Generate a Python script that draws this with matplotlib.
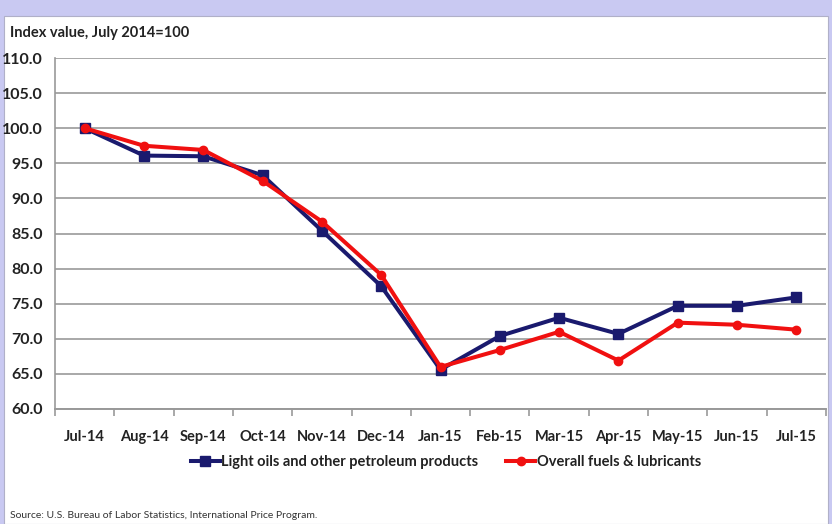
import matplotlib
matplotlib.use("Agg")
import matplotlib.pyplot as plt
import numpy as np
from matplotlib.patches import Rectangle

months = ["Jul-14", "Aug-14", "Sep-14", "Oct-14", "Nov-14", "Dec-14", "Jan-15",
          "Feb-15", "Mar-15", "Apr-15", "May-15", "Jun-15", "Jul-15"]
light_oils = [100.0, 96.1, 96.0, 93.3, 85.4, 77.5, 65.6, 70.4, 73.0, 70.7, 74.7, 74.7, 75.9]
overall = [100.0, 97.5, 96.9, 92.5, 86.7, 79.1, 66.0, 68.4, 71.0, 66.9, 72.3, 72.0, 71.3]
yticks = [60, 65, 70, 75, 80, 85, 90, 95, 100, 105, 110]

plt.rcParams['font.family'] = ['Lato', 'DejaVu Sans']

fig = plt.figure(figsize=(8.32, 5.24), dpi=100)
fig.patch.set_facecolor('#c9c9f2')
# white slide panel
fig.patches.append(Rectangle((4/832, 0), 824/832, 1 - 16/524, transform=fig.transFigure,
                             facecolor='white', edgecolor='#b0b0c8', linewidth=0.8, zorder=-5))

ax = fig.add_axes([55/832, 1 - 409/524, 771/832, 351/524])
ax.set_zorder(2)
ax.set_facecolor('none')
x = np.arange(len(months))
ax.plot(x, light_oils, color='#1a1a6e', lw=2.9, marker='s', ms=6.5, zorder=3,
        label='Light oils and other petroleum products')
ax.plot(x, overall, color='#f01010', lw=2.9, marker='o', ms=6, zorder=4,
        label='Overall fuels & lubricants')

ax.set_xlim(-0.5, len(months) - 0.5)
ax.set_ylim(60, 110)
ax.set_yticks(yticks)
ax.set_yticklabels([f"{v:.1f}" for v in yticks], fontsize=11.5, fontweight='bold', color='#222222')
ax.set_xticks(x)
ax.set_xticklabels(months, fontsize=10.5, fontweight='bold', color='#222222')
ax.set_xticks(np.arange(-0.5, len(months), 1), minor=True)
ax.tick_params(axis='x', which='major', length=0, pad=15)
ax.tick_params(axis='x', which='minor', length=5, color='#999999', width=1.2)
ax.tick_params(axis='y', length=0, pad=9)
ax.grid(axis='y', color='#a8a8a8', lw=1.4, zorder=0)
for s in ['top', 'right']:
    ax.spines[s].set_visible(False)
ax.spines['left'].set_color('#999999')
ax.spines['left'].set_linewidth(1.2)
ax.spines['bottom'].set_color('#999999')
ax.spines['bottom'].set_linewidth(1.4)

leg = fig.legend(loc='center', bbox_to_anchor=(446/832, 1 - 462/524), ncol=2, frameon=False,
                 fontsize=10.5, handlelength=2.0, columnspacing=1.9, handletextpad=0.1)
for t in leg.get_texts():
    t.set_fontweight('bold')
    t.set_color('#222222')

fig.text(10/832, 1 - 33/524, "Index value, July 2014=100", fontsize=10.5, fontweight='bold',
         color='#222222', va='center', ha='left')
fig.text(10/832, 1 - 516/524, "Source: U.S. Bureau of Labor Statistics, International Price Program.",
         fontsize=7.5, color='#333333', va='center', ha='left')

fig.savefig("out.png", dpi=100, facecolor=fig.get_facecolor())
